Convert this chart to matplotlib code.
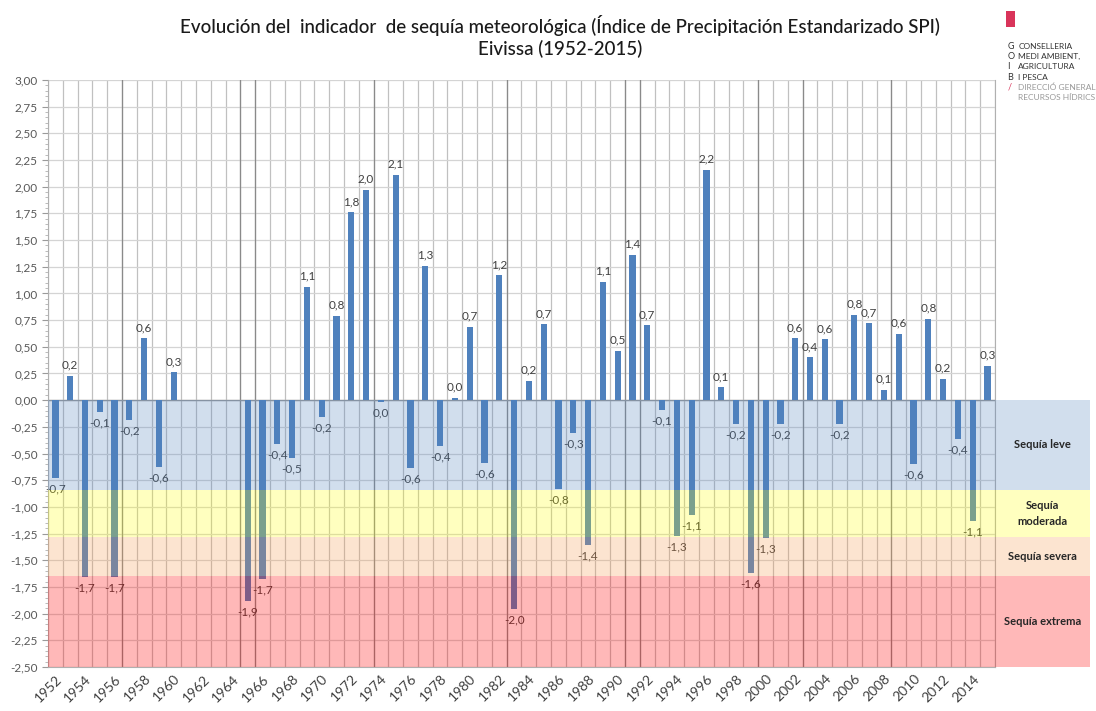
import matplotlib.pyplot as plt
import numpy as np
from matplotlib.patches import Rectangle
from matplotlib.ticker import FuncFormatter, MultipleLocator

years = list(range(1952, 2016))
spi = [-0.73, 0.23, -1.66, -0.11, -1.66, -0.19, 0.58, -0.63, 0.26, np.nan,
       np.nan, np.nan, np.nan, -1.88, -1.68, -0.41, -0.54, 1.06, -0.16, 0.79,
       1.76, 1.97, -0.02, 2.11, -0.64, 1.26, -0.43, 0.02, 0.69, -0.59,
       1.17, -1.96, 0.18, 0.71, -0.83, -0.31, -1.36, 1.11, 0.46, 1.36,
       0.70, -0.09, -1.27, -1.08, 2.16, 0.12, -0.22, -1.62, -1.29, -0.22,
       0.58, 0.40, 0.57, -0.22, 0.80, 0.72, 0.094, 0.62, -0.60, 0.76,
       0.20, -0.36, -1.13, 0.32]

# drought classes (upper, lower limit), colour, label
band_limits = [(0.0, -0.84), (-0.84, -1.28), (-1.28, -1.65), (-1.65, -2.5)]
band_colors = ['#4F81BD', '#FFFF00', '#F79646', '#FF0000']
band_alpha = [0.26, 0.25, 0.25, 0.28]
band_labels = ['Sequía leve', 'Sequía\nmoderada', 'Sequía severa', 'Sequía extrema']

title = ('Evolución del  indicador  de sequía meteorológica '
         '(Índice de Precipitación Estandarizado SPI)\nEivissa (1952-2015)')


def fmt_label(v):
    s = '%.1f' % v
    if s == '-0.0':
        s = '0.0'
    return s.replace('.', ',')


def main():
    plt.rcParams['font.family'] = ['Lato', 'DejaVu Sans']
    fig = plt.figure(figsize=(10.96, 7.11), dpi=100)
    ax = fig.add_axes([0.0438, 0.0619, 0.864, 0.8256])

    x = np.arange(len(years))
    vals = np.array(spi, dtype=float)
    ax.bar(x, np.nan_to_num(vals), width=0.42, color='#4F81BD', zorder=2)

    ax.set_xlim(-0.5, len(years) - 0.5)
    ax.set_ylim(-2.5, 3.0)

    # grid
    for b in np.arange(-0.5, len(years), 1.0):
        ax.axvline(b, color='#c0c0c0', lw=0.9, zorder=1)
    for yv in np.arange(-2.5, 3.01, 0.25):
        ax.axhline(yv, color='#d4d4d4', lw=0.9, zorder=1)
    # slightly darker lines from the original raster
    for k in [5, 13, 14, 22, 31, 39, 40, 48, 51, 57]:
        ax.axvline(k - 0.5, color='#8a8a8a', lw=0.9, zorder=1)
    ax.axhline(0, color='#9a9a9a', lw=1.0, zorder=1)

    # drought bands drawn over the bars
    ext = 1.1
    for (top, bot), c, a, lab in zip(band_limits, band_colors, band_alpha, band_labels):
        r = Rectangle((0, bot), ext, top - bot, transform=ax.get_yaxis_transform(),
                      facecolor=c, alpha=a, edgecolor='none', zorder=3, clip_on=False)
        ax.add_patch(r)
        ax.text(1.0505, (top + bot) / 2, lab, transform=ax.get_yaxis_transform(),
                ha='center', va='center', fontsize=8, fontweight='bold',
                color='#262626', zorder=5, linespacing=1.5)

    # data labels
    for xi, v in zip(x, vals):
        if np.isnan(v):
            continue
        if v >= 0:
            ax.text(xi, v + 0.05, fmt_label(v), ha='center', va='bottom',
                    fontsize=8.5, color='#404040', zorder=4)
        else:
            ax.text(xi, v - 0.05, fmt_label(v), ha='center', va='top',
                    fontsize=8.5, color='#404040', zorder=2.5)

    ax.yaxis.set_major_locator(MultipleLocator(0.25))
    ax.yaxis.set_minor_locator(MultipleLocator(0.05))
    ax.yaxis.set_major_formatter(FuncFormatter(lambda v, p: ('%.2f' % v).replace('.', ',')))
    ax.tick_params(axis='y', which='major', labelsize=8.5, labelcolor='#595959',
                   color='#9a9a9a', length=4)
    ax.tick_params(axis='y', which='minor', color='#b0b0b0', length=2)

    ax.set_xticks(x[::2])
    ax.set_xticklabels([str(y) for y in years[::2]], rotation=45, ha='right',
                       rotation_mode='anchor', fontsize=10, color='#404040')
    ax.tick_params(axis='x', length=0, pad=4)

    for s in ax.spines.values():
        s.set_color('#b0b0b0')
    ax.spines['top'].set_visible(False)

    fig.text(0.511, 0.949, title, ha='center', va='center', fontsize=13.5,
             fontweight='medium', color='#1a1a1a', linespacing=1.3)

    # logo
    fig.add_artist(Rectangle((0.918, 0.962), 0.008, 0.022, transform=fig.transFigure,
                             facecolor='#d9345a', edgecolor='none'))
    logo_l = ['G', 'O', 'I', 'B']
    logo_r = ['CONSELLERIA', 'MEDI AMBIENT,', 'AGRICULTURA', 'I PESCA']
    for i, (a, b) in enumerate(zip(logo_l, logo_r)):
        yy = 0.935 - i * 0.0145
        fig.text(0.919, yy, a, fontsize=6.5, color='#333333', va='center')
        fig.text(0.929, yy, b, fontsize=6, color='#333333', va='center')
    fig.text(0.919, 0.877, '/', fontsize=6.5, color='#d9345a', va='center')
    fig.text(0.929, 0.877, 'DIRECCIÓ GENERAL', fontsize=6, color='#999999', va='center')
    fig.text(0.929, 0.863, 'RECURSOS HÍDRICS', fontsize=6, color='#999999', va='center')

    plt.savefig('out.png', dpi=100)


if __name__ == "__main__":
    main()
